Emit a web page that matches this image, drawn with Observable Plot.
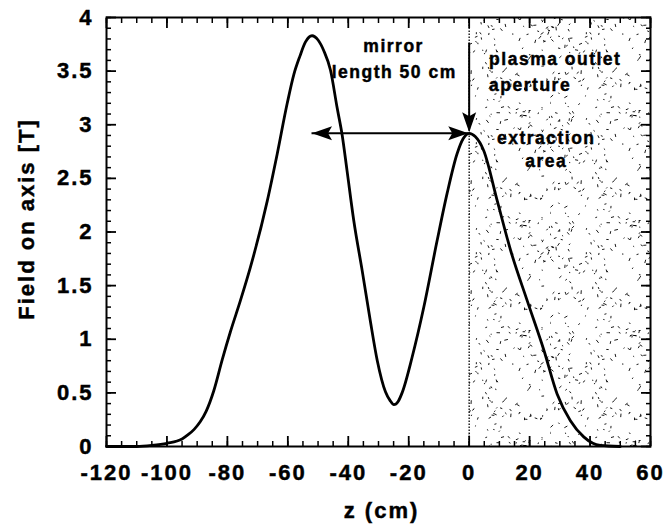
<!DOCTYPE html>
<html><head><meta charset="utf-8">
<script src="https://cdn.jsdelivr.net/npm/d3@7"></script>
<script src="https://cdn.jsdelivr.net/npm/@observablehq/plot@0.6"></script>
<style>
body{margin:0;background:#fff}
#chart svg text{letter-spacing:1.5px;stroke:#000;stroke-width:0.45px}
#chart g[font-size="22"] text{letter-spacing:2px}
</style></head><body>
<div id="chart"></div>
<script>
// Field on axis (T) vs z (cm)
const zValues = [-120, -110, -105, -100, -95, -93, -91, -89, -87, -84.5, -81.7, -79, -75.7, -72.4, -66.8, -63.5, -60.2, -58, -56, -54.2, -52, -50, -48.1, -45.9, -43.7, -42, -40.4, -38.2, -35.4, -32.7, -30.4, -27.7, -26.2, -24.9, -23.5, -22.2, -18.9, -15, -10.6, -7.3, -4, -2, 0, 2, 4.8, 9.3, 13.7, 19.2, 24.7, 29.1, 33.5, 37.9, 43.4, 50];
const fieldValues = [0, 0, 0.01, 0.03, 0.07, 0.11, 0.16, 0.23, 0.33, 0.52, 0.81, 1.07, 1.36, 1.67, 2.29, 2.73, 3.20, 3.47, 3.64, 3.77, 3.83, 3.79, 3.69, 3.51, 3.16, 2.90, 2.57, 2.11, 1.64, 1.17, 0.80, 0.51, 0.43, 0.39, 0.42, 0.50, 0.83, 1.30, 1.92, 2.36, 2.73, 2.87, 2.92, 2.89, 2.76, 2.29, 1.83, 1.36, 0.90, 0.49, 0.24, 0.09, 0.01, 0];

const xTicks = [-120, -100, -80, -60, -40, -20, 0, 20, 40, 60];
const xTickLabels = ["-120", "-100", "-80", "-60", "-40", "-20", "0", "20", "40", "60"];
const yTicks = [0, 0.5, 1, 1.5, 2, 2.5, 3, 3.5, 4];
const yTickLabels = ["0", "0.5", "1", "1.5", "2", "2.5", "3", "3.5", "4"];
const xMinorTicks = d3.range(-120, 61, 5);
const yMinorTicks = d3.range(0, 41, 1).map(d => d / 10);

const xDomain = [-120, 60];
const yDomain = [0, 4];

// shaded extraction region and its boundary
const shadedRegion = [{z1: 0, z2: 60, b1: 0, b2: 4}];
const boundaryZ = [0];

// arrows (data coordinates)
const horizontalArrow = [{z1: -52, z2: 0, b: 2.92}];
const verticalArrow = [{z: 0, b1: 3.76, b2: 2.95}];
const arrowHeads = [
  {z: -52, b: 2.92, dir: 180},
  {z: -0.3, b: 2.92, dir: 0},
  {z: 0, b: 2.93, dir: 90}
];

// annotations
const centeredNotes = [
  {label: "mirror", z: -25, b: 3.73},
  {label: "length 50 cm", z: -24.8, b: 3.49},
  {label: "extraction", z: 25.5, b: 2.875},
  {label: "area", z: 25.5, b: 2.66}
];
const leftNotes = [
  {label: "plasma outlet", z: 6.6, b: 3.605},
  {label: "aperture", z: 6.6, b: 3.37}
];

const xTitle = "z (cm)";
const yTitle = "Field on axis [T]";

const curveData = zValues.map((z, i) => ({z, b: fieldValues[i]}));

const headSymbol = {
  draw(context, size) {
    const r = Math.sqrt(size / Math.PI);
    const L = 2 * r, w = 0.7 * r;
    context.moveTo(0, 0);
    context.lineTo(-L, -w);
    context.lineTo(-0.8 * L, 0);
    context.lineTo(-L, w);
    context.closePath();
  }
};

const W = 666, H = 527, mL = 106, mR = 16, mT = 17, mB = 81;
const minorLen = 5, majorLen = 10;
const font = "Liberation Sans, Arial, Helvetica, sans-serif";
const fmtX = d => xTickLabels[xTicks.indexOf(d)];
const fmtY = d => yTickLabels[yTicks.indexOf(d)];
const blank = () => "";

// inward ticks: ordinary outward axis ticks shifted inward by their own length
const tickAxes = [];
for (const [xt, yt, len, sw] of [[xMinorTicks, yMinorTicks, minorLen, 1.5], [xTicks, yTicks, majorLen, 1.8]]) {
  tickAxes.push(Plot.axisX({anchor: "bottom", ticks: xt, tickSize: len, dy: -len, tickFormat: blank, strokeWidth: sw, label: null}));
  tickAxes.push(Plot.axisX({anchor: "top", ticks: xt, tickSize: len, dy: len, tickFormat: blank, strokeWidth: sw, label: null}));
  tickAxes.push(Plot.axisY({anchor: "left", ticks: yt, tickSize: len, dx: len, tickFormat: blank, strokeWidth: sw, label: null}));
  tickAxes.push(Plot.axisY({anchor: "right", ticks: yt, tickSize: len, dx: -len, tickFormat: blank, strokeWidth: sw, label: null}));
}

const chart = Plot.plot({
  width: W,
  height: H,
  marginLeft: mL,
  marginRight: mR,
  marginTop: mT,
  marginBottom: mB,
  style: {fontFamily: font, background: "white", color: "black"},
  x: {domain: xDomain},
  y: {domain: yDomain},
  marks: [
    Plot.rect(shadedRegion, {x1: "z1", x2: "z2", y1: "b1", y2: "b2", fill: "url(#stipple)"}),
    Plot.ruleX(boundaryZ, {x: d => d, y1: 0, y2: 4, stroke: "black", strokeWidth: 1.3, strokeDasharray: "1.5,1.5"}),
    ...tickAxes,
    // tick labels
    Plot.axisX({anchor: "bottom", ticks: xTicks, tickSize: 0, tickPadding: 18, tickFormat: fmtX, fontSize: 22, fontWeight: "bold", label: null}),
    Plot.axisY({anchor: "left", ticks: yTicks, tickSize: 0, tickPadding: 13, tickFormat: fmtY, fontSize: 22, fontWeight: "bold", label: null}),
    Plot.frame({stroke: "black", strokeWidth: 2}),
    // curve
    Plot.line(curveData, {x: "z", y: "b", curve: "monotone-x", stroke: "black", strokeWidth: 2.8}),
    // arrows
    Plot.ruleY(horizontalArrow, {y: "b", x1: "z1", x2: "z2", stroke: "black", strokeWidth: 2}),
    Plot.ruleX(verticalArrow, {x: "z", y1: "b1", y2: "b2", stroke: "black", strokeWidth: 2}),
    Plot.dot(arrowHeads, {x: "z", y: "b", rotate: "dir", symbol: headSymbol, r: 10, fill: "black", stroke: null}),
    // annotations
    Plot.text(centeredNotes, {x: "z", y: "b", text: "label", textAnchor: "middle", lineAnchor: "middle", fontSize: 17.5, fontWeight: "bold"}),
    Plot.text(leftNotes, {x: "z", y: "b", text: "label", textAnchor: "start", lineAnchor: "middle", fontSize: 17.5, fontWeight: "bold"}),
    // axis titles
    Plot.text([xTitle], {frameAnchor: "bottom", textAnchor: "middle", lineAnchor: "middle", dx: 3, dy: 64, fontSize: 22, fontWeight: "bold"}),
    Plot.text([yTitle], {frameAnchor: "left", textAnchor: "middle", lineAnchor: "middle", rotate: -90, dx: -80, dy: -13, fontSize: 22, fontWeight: "bold"})
  ]
});

// stipple texture for the shaded region (decoration only), defined inside the chart's own svg
(function () {
  const T = 110;
  const hash = s => { const v = Math.sin(s) * 43758.5453; return v - Math.floor(v); };
  const svg = d3.select(chart);
  const pat = svg.insert("defs", ":first-child").append("pattern")
    .attr("id", "stipple").attr("patternUnits", "userSpaceOnUse").attr("width", T).attr("height", T);
  pat.append("rect").attr("width", T).attr("height", T).attr("fill", "#fff");
  for (let k = 1; k <= 185; k++) {
    const x = hash(k * 12.9898) * T, y = hash(k * 78.233) * T, a = hash(k * 37.719) * Math.PI;
    const h = 0.5 + hash(k * 4.1414) * 1.4;
    pat.append("path")
      .attr("d", `M${x - h * Math.cos(a)},${y - h * Math.sin(a)}L${x + h * Math.cos(a)},${y + h * Math.sin(a)}`)
      .attr("stroke", "#000").attr("stroke-width", 0.9);
  }
})();

document.getElementById("chart").appendChild(chart);
</script>
</body></html>
